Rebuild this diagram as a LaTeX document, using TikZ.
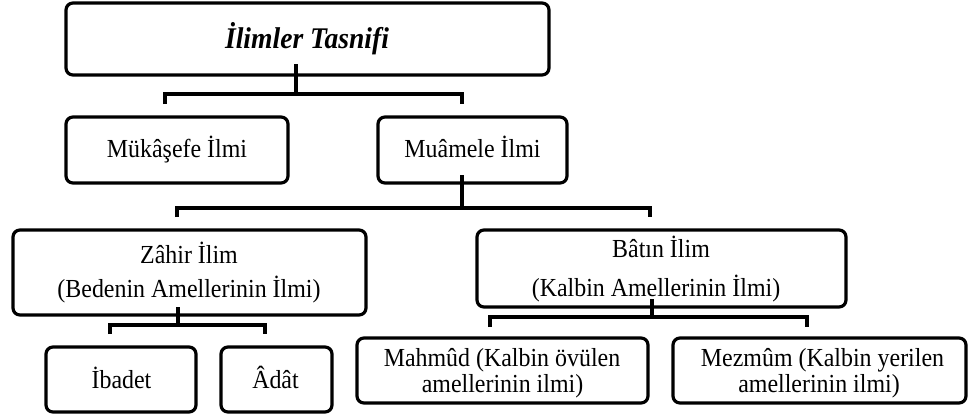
\documentclass[tikz,border=0pt]{standalone}
\usepackage{fontspec}
\setmainfont{Liberation Serif}[Ligatures=NoCommon, FakeStretch=0.92]
\begin{document}
\begin{tikzpicture}[x=1pt,y=-1pt,
  box/.style={draw, line width=3.2pt, rounded corners=7pt, inner sep=0pt},
  conn/.style={line width=3.4pt, line join=miter},
  lbl/.style={anchor=base, inner sep=0pt, font=\fontsize{26}{28}\selectfont},
  ttl/.style={anchor=base, inner sep=0pt, font=\fontsize{30}{32}\selectfont\bfseries\itshape}]
\useasboundingbox (0,0) rectangle (974,416);

% boxes
\node[box, minimum width=483pt, minimum height=72pt] (top) at (307.5,39) {};
\node[box, minimum width=222pt, minimum height=66pt] (muk) at (177,150) {};
\node[box, minimum width=189pt, minimum height=66pt] (mua) at (472.5,150) {};
\node[box, minimum width=353pt, minimum height=85pt] (zahir) at (189.5,272.5) {};
\node[box, minimum width=369pt, minimum height=77pt] (batin) at (661.5,268.5) {};
\node[box, minimum width=150pt, minimum height=65pt] (ibadet) at (121,379.5) {};
\node[box, minimum width=111pt, minimum height=65pt] (adat) at (276.5,379.5) {};
\node[box, minimum width=291pt, minimum height=65pt] (mahmud) at (502.5,370.5) {};
\node[box, minimum width=293pt, minimum height=65pt] (mezmum) at (819.5,370.5) {};

% texts
\node[ttl] (topT) at (307,48) {İlimler Tasnifi};
\node[lbl] (mukT) at (177,157) {Mükâşefe İlmi};
\node[lbl] (muaT) at (472.5,157) {Muâmele İlmi};
\node[lbl] (zahirT1) at (189,263) {Zâhir İlim};
\node[lbl] (zahirT2) at (189,297) {(Bedenin Amellerinin İlmi)};
\node[lbl] (batinT1) at (661,257) {Bâtın İlim};
\node[lbl] (batinT2) at (656,296) {(Kalbin Amellerinin İlmi)};
\node[lbl] (ibadetT) at (121.5,388) {İbadet};
\node[lbl] (adatT) at (275.5,388) {Âdât};
\node[lbl] (mahmudT1) at (502,366) {Mahmûd (Kalbin övülen};
\node[lbl] (mahmudT2) at (502.5,392) {amellerinin ilmi)};
\node[lbl] (mezmumT1) at (822.5,366) {Mezmûm (Kalbin yerilen};
\node[lbl] (mezmumT2) at (819,392) {amellerinin ilmi)};

% connectors: top
\coordinate (j0) at (296,94);
\coordinate (b0l) at (165,104);
\coordinate (b0r) at (462,104);
\draw[conn] (j0) -- ++(0,-30);
\draw[conn] (b0l) -- (b0l |- j0) -- (b0r |- j0) -- (b0r);

% connectors: muamele
\coordinate (j1) at (462,208);
\coordinate (b1l) at (177,217);
\coordinate (b1r) at (650,217);
\draw[conn] (j1) -- (j1 |- mua.south) -- ++(0,-10);
\draw[conn] (b1l) -- (b1l |- j1) -- (b1r |- j1) -- (b1r);

% connectors: zahir
\coordinate (j2) at (178,325);
\coordinate (b2l) at (110,334);
\coordinate (b2r) at (265,334);
\draw[conn] (j2) -- (j2 |- zahir.south) -- ++(0,-10);
\draw[conn] (b2l) -- (b2l |- j2) -- (b2r |- j2) -- (b2r);

% connectors: batin
\coordinate (j3) at (652,317);
\coordinate (b3l) at (490,327);
\coordinate (b3r) at (807,327);
\draw[conn] (j3) -- (j3 |- batin.south) -- ++(0,-10);
\draw[conn] (b3l) -- (b3l |- j3) -- (b3r |- j3) -- (b3r);
\end{tikzpicture}
\end{document}
